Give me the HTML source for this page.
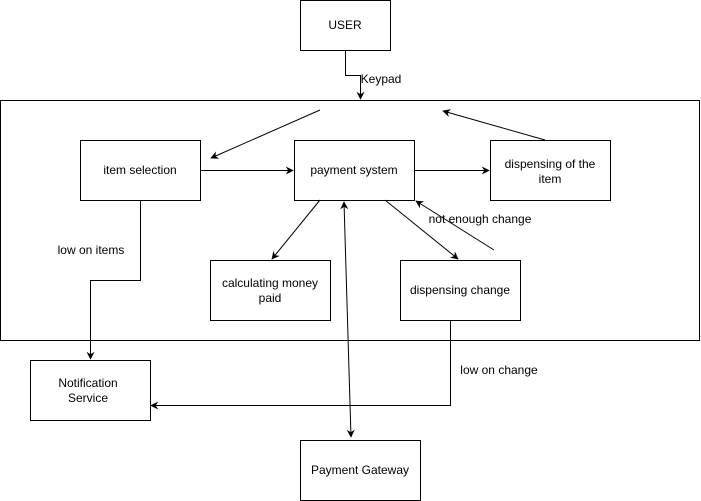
<!DOCTYPE html>
<html><head><style>
body{margin:0;background:#fff;}
svg{display:block;font-family:"Liberation Sans",Helvetica,Arial,sans-serif;font-size:12px;}
</style></head><body>
<svg width="701" height="501" viewBox="0 0 701 501">
<defs><marker id="a" viewBox="0 0 10 10" refX="9" refY="5" markerWidth="8" markerHeight="8" orient="auto-start-reverse"><path d="M0,0 L10,5 L0,10 L3,5 Z" fill="#000"/></marker></defs>
<g fill="#fff" stroke="#000" stroke-width="1">
<rect x="0.5" y="100.5" width="699" height="240"/>
<rect x="300.5" y="0.5" width="90" height="50"/>
<rect x="80.5" y="140.5" width="120" height="60"/>
<rect x="294.5" y="140.5" width="120" height="60"/>
<rect x="490.5" y="140.5" width="120" height="60"/>
<rect x="210.5" y="260.5" width="120" height="60"/>
<rect x="400.5" y="260.5" width="120" height="60"/>
<rect x="30.5" y="360.5" width="120" height="60"/>
<rect x="300.5" y="440.5" width="120" height="60"/>
</g>
<g fill="none" stroke="#000" stroke-width="1" marker-end="url(#a)">
<path d="M345.5,50 V75.5 H360.5 V99"/>
<path d="M320,110 L211,158"/>
<path d="M545,140 L443,111"/>
<path d="M200,170.5 H293"/>
<path d="M414,170.5 H489"/>
<path d="M140.5,200 V280.5 H90.5 V359"/>
<path d="M320,200 L272,259"/>
<path d="M385,200 L458,259"/>
<path d="M494,250 L416,201"/>
<path d="M450.5,320 V405.5 H151"/>
<path d="M344,202 L351,437" marker-start="url(#a)"/>
</g>
<g fill="#000" text-anchor="middle">
<text x="345" y="29">USER</text>
<text x="381" y="83">Keypad</text>
<text x="140" y="174">item selection</text>
<text x="354" y="174">payment system</text>
<text x="550" y="168">dispensing of the</text>
<text x="550" y="183">item</text>
<text x="270" y="287">calculating money</text>
<text x="270" y="302">paid</text>
<text x="460" y="294">dispensing change</text>
<text x="88" y="387">Notification</text>
<text x="88" y="402">Service</text>
<text x="360" y="474">Payment Gateway</text>
<text x="91" y="254">low on items</text>
<text x="480" y="223">not enough change</text>
<text x="499" y="374">low on change</text>
</g>
</svg>
</body></html>
